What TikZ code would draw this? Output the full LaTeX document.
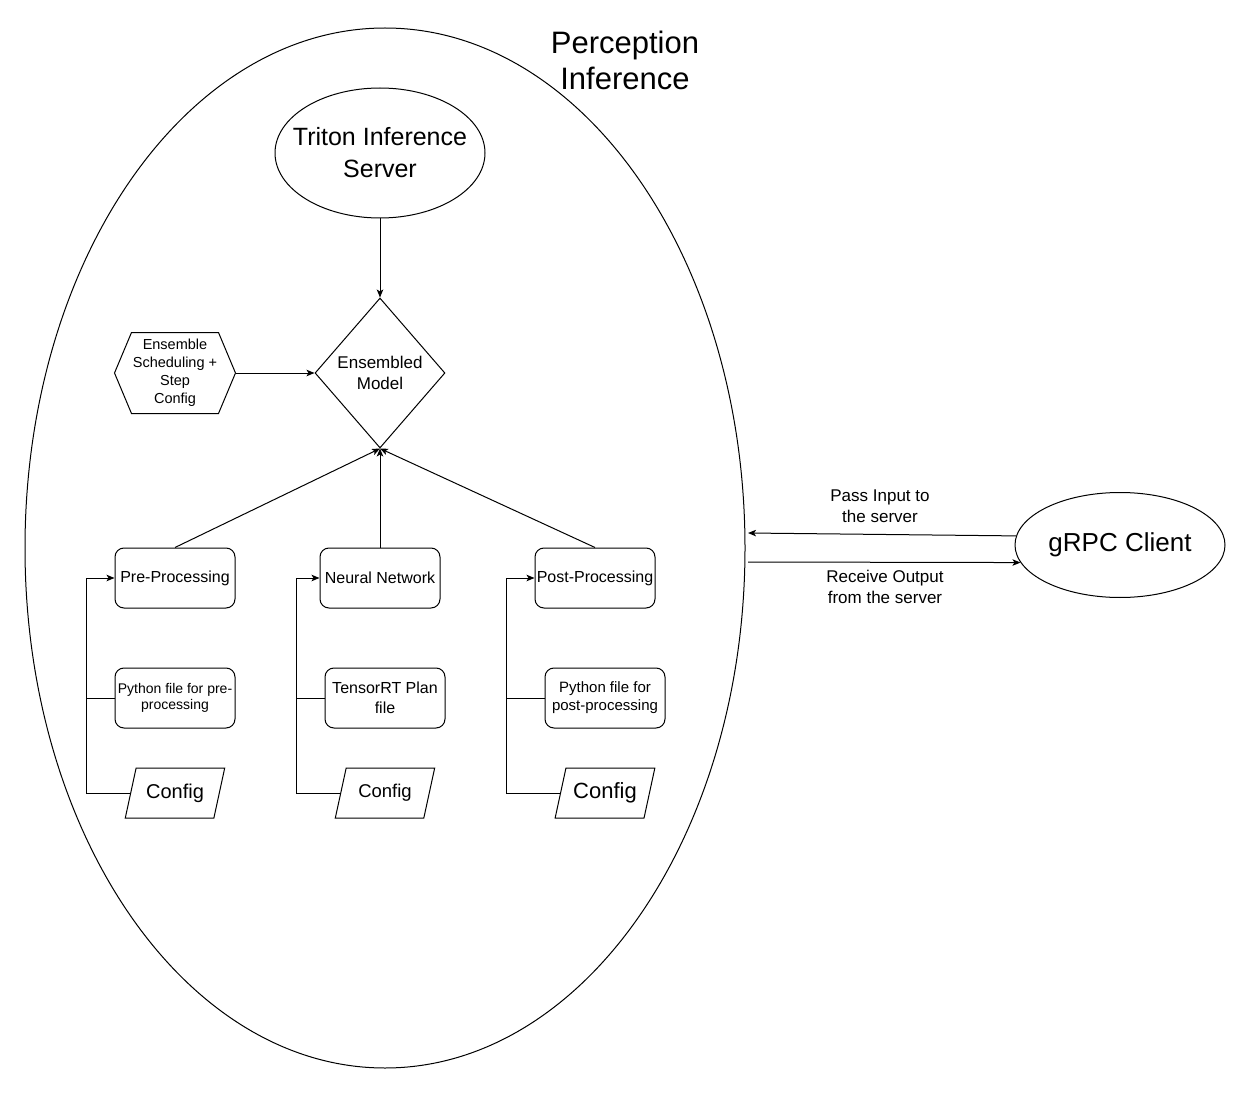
\documentclass[tikz,border=0pt]{standalone}
\usepackage{fontspec}
\setmainfont{Liberation Sans}
\usetikzlibrary{arrows.meta,shapes.geometric}

\begin{document}
\begin{tikzpicture}[x=1pt,y=-1pt,line width=1pt,
    box/.style={draw,rounded corners=9pt,minimum width=120pt,minimum height=60pt,inner sep=1pt,align=center,font=\fontsize{16}{19}\selectfont},
    cfgbox/.style={draw,trapezium,trapezium left angle=68,trapezium right angle=112,trapezium stretches=true,minimum width=100pt,minimum height=50pt,inner sep=1pt},
    arr/.style={-{Stealth[length=8pt,width=6.5pt,inset=2pt]}}]

\useasboundingbox (0,0) rectangle (1251,1094);

\node (pi) [draw,ellipse,minimum width=720pt,minimum height=1040pt] at (385,548) {};
\node (pilabel) [align=center,font=\fontsize{31}{36}\selectfont] at (625,60) {Perception\\Inference};

\node (triton) [draw,ellipse,minimum width=210pt,minimum height=130pt,inner xsep=-20pt,inner ysep=0pt,align=center,font=\fontsize{25}{32}\selectfont] at (380,153) {Triton Inference\\Server};
\node (ens) [draw,diamond,minimum width=130pt,minimum height=150pt,inner sep=0pt,align=center,font=\fontsize{17}{21}\selectfont] at (380,373) {Ensembled\\Model};
\node (sched) [minimum width=120pt,minimum height=80pt,inner sep=0pt,align=center,font=\fontsize{14.5}{18}\selectfont] at (175,373) {Ensemble\\Scheduling +\\Step\\Config};
\draw (sched.west) -- ([xshift=17pt]sched.north west) -- ([xshift=-17pt]sched.north east) -- (sched.east)
    -- ([xshift=-17pt]sched.south east) -- ([xshift=17pt]sched.south west) -- cycle;

\node (pre)  [box] at (175,578) {Pre-Processing};
\node (nn)   [box] at (380,578) {Neural Network};
\node (post) [box] at (595,578) {Post-Processing};
\node (pypre)  [box,font=\fontsize{14}{16.5}\selectfont] at (175,698) {Python file for pre-\\processing};
\node (trt)    [box,font=\fontsize{16}{20}\selectfont] at (385,698) {TensorRT Plan\\file};
\node (pypost) [box,font=\fontsize{15}{18}\selectfont] at (605,698) {Python file for\\post-processing};
\node (cfgpre)  [cfgbox,font=\fontsize{20}{24}\selectfont] at (175,793) {Config};
\node (cfgnn)   [cfgbox,font=\fontsize{18.5}{22}\selectfont] at (385,793) {Config};
\node (cfgpost) [cfgbox,font=\fontsize{22}{26}\selectfont] at (605,793) {Config};

\foreach \n/\b in {pre/86,nn/296,post/506}
    \coordinate (bus\n) at (\b,578);

\foreach \n/\f in {pre/pypre,nn/trt,post/pypost} {
    \draw[arr] (cfg\n.west) -| (bus\n) -- (\n.west);
    \draw (\f.west) -- (\f.west -| bus\n);
}

\foreach \n in {pre,nn,post}
    \draw[arr] (\n.north) -- (ens.south);
\draw[arr] (triton) -- (ens);
\draw[arr] (sched.east) -- (ens.west);

\node (grpc) [draw,ellipse,minimum width=210pt,minimum height=105pt,inner sep=0pt,font=\fontsize{26}{31}\selectfont] at (1120,545) {gRPC Client};
\coordinate (inpi) at (748,533);
\coordinate (outpi) at (748,562);
\draw[arr] (grpc.175) -- (inpi);
\draw[arr] (outpi) -- (grpc.190);
\node (passlbl) [align=center,font=\fontsize{17}{21}\selectfont] at (880,506) {Pass Input to\\the server};
\node (recvlbl) [align=center,font=\fontsize{17}{21}\selectfont] at (885,587) {Receive Output\\from the server};

\end{tikzpicture}
\end{document}
